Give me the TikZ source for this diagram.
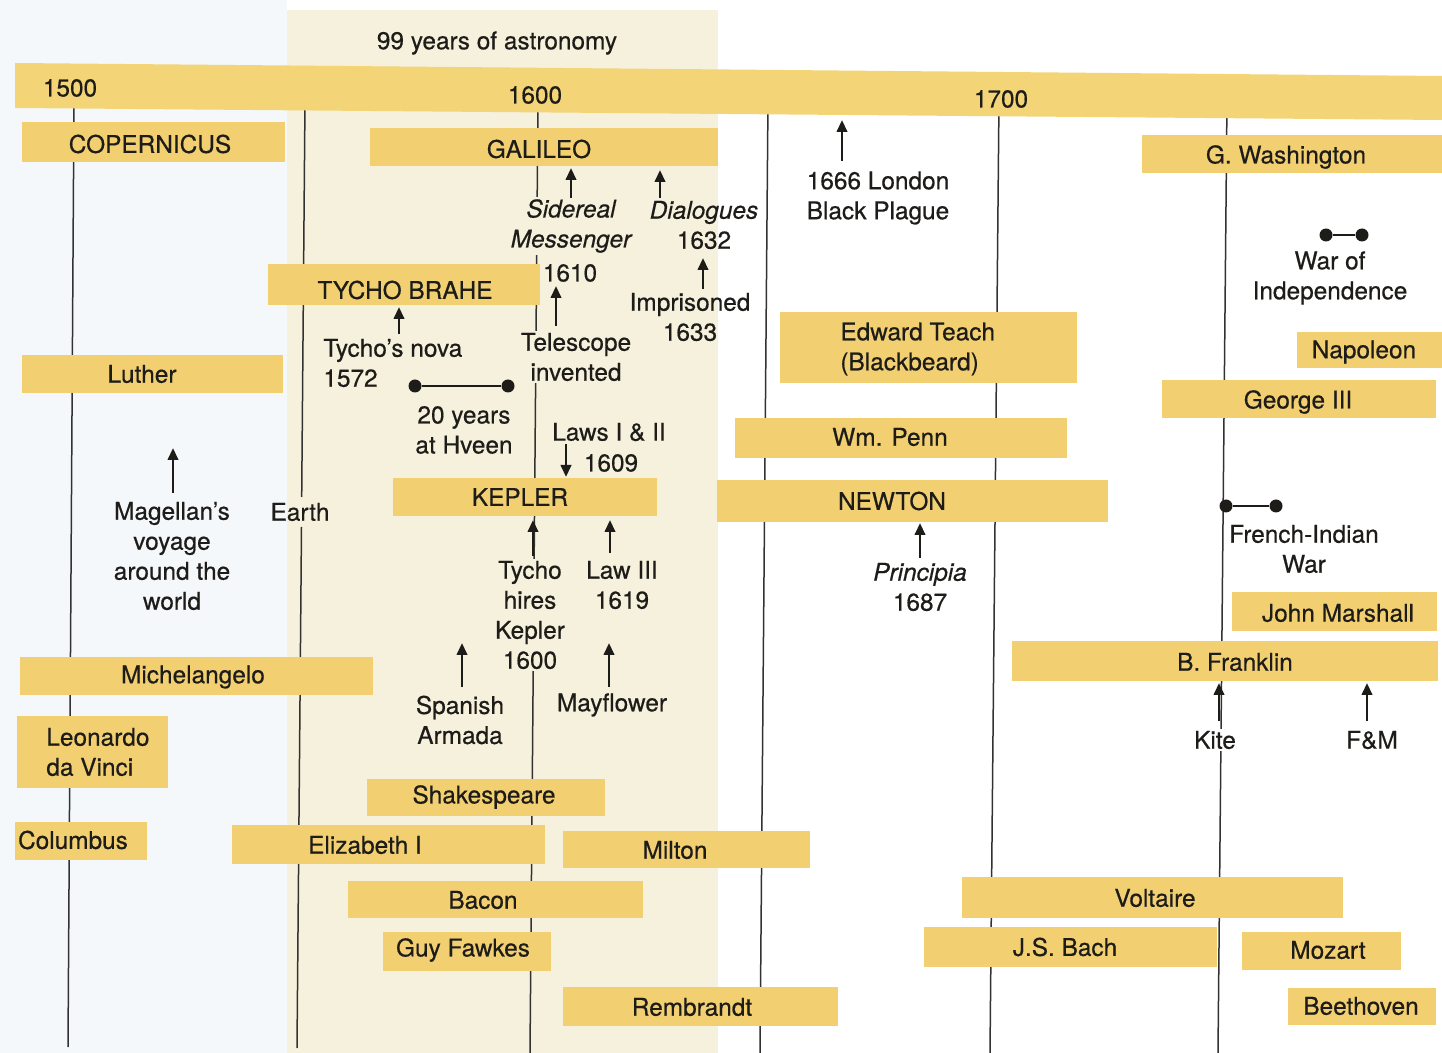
\documentclass[tikz,border=0pt]{standalone}
\usepackage{fontspec}
\setmainfont{TeX Gyre Heros}[FakeBold=0.5]
\usetikzlibrary{arrows.meta}
\definecolor{barc}{RGB}{242,208,114}
\definecolor{topbarc}{RGB}{243,212,118}
\definecolor{creamc}{RGB}{245,241,221}
\definecolor{bluec}{RGB}{244,248,251}
\definecolor{linec}{RGB}{50,50,50}
\definecolor{inkc}{RGB}{30,28,25}
\newcommand\tlbar[8]{\path[fill=barc] (#2,#3) rectangle (#4,#5); \node[bartext] (#1) at (#6,#7) {#8};}
\newcommand\tlarrow[5]{\coordinate (#1t) at (#2,#3); \coordinate (#1h) at (#2,#4); \draw[arr] (#1t) -- (#1h);}
\begin{document}
\begin{tikzpicture}[x=0.5pt,y=-0.5pt,
  bartext/.style={font=\fontsize{12.2}{15}\selectfont, inner sep=0pt, align=center, text=inkc},
  lbl/.style={font=\fontsize{12.2}{15}\selectfont, inner sep=1pt, align=center, text=inkc},
  onc/.style={fill=creamc},
  onw/.style={fill=white},
  arr/.style={-{Triangle[length=6pt,width=5.2pt]}, line width=1.3pt, inkc},
  vline/.style={linec, line width=0.75pt},
  dumb/.style={line width=1.4pt, inkc},
  dot/.style={circle, fill=inkc, inner sep=0pt, minimum size=6.5pt}]

\useasboundingbox (0,0) rectangle (1442,1053);
\fill[white] (0,0) rectangle (1442,1053);
\fill[bluec] (0,0) rectangle (287,1053);
\fill[creamc] (287,10) rectangle (718,1053);

% vertical lines
\coordinate (l1a) at (74,100); \coordinate (l1b) at (68,1047);
\coordinate (l2a) at (305,100); \coordinate (l2m) at (301.7,497);
\coordinate (l2n) at (301.5,527); \coordinate (l2b) at (297,1048);
\coordinate (l3a) at (538,100); \coordinate (l3b) at (530,1053);
\coordinate (l4a) at (768,100); \coordinate (l4b) at (760,1053);
\coordinate (l5a) at (999,100); \coordinate (l5b) at (990,1053);
\coordinate (l6a) at (1227,100); \coordinate (l6b) at (1218,1053);
\draw[vline] (l1a) -- (l1b);
\draw[vline] (l2a) -- (l2m);
\draw[vline] (l2n) -- (l2b);
\draw[vline] (l3a) -- (l3b);
\draw[vline] (l4a) -- (l4b);
\draw[vline] (l5a) -- (l5b);
\draw[vline] (l6a) -- (l6b);

% top bar
\fill[topbarc] (15,63) -- (1442,76) -- (1442,120) -- (15,108) -- cycle;
\node[bartext] (y1500) at (70,88) {1500};
\node[bartext] (y1600) at (535,95) {1600};
\node[bartext] (y1700) at (1001,99) {1700};
\node[lbl] (title) at (497,43) {99 years of astronomy};

% bars
\tlbar{copernicus}{22}{122}{285}{162}{150}{144}{COPERNICUS}
\tlbar{galileo}{370}{128}{718}{166}{539}{149}{GALILEO}
\tlbar{tycho}{268}{264}{540}{305}{405}{290}{TYCHO BRAHE}
\tlbar{luther}{22}{355}{283}{393}{142}{374}{Luther}
\tlbar{kepler}{393}{478}{657}{516}{520}{497}{KEPLER}
\tlbar{michelangelo}{20}{657}{373}{695}{193}{677}{Michelangelo}
\path[fill=barc] (17,716) rectangle (168,788);
\node[bartext, anchor=west, align=left] (leonardo) at (46,752) {Leonardo\\da Vinci};
\tlbar{columbus}{15}{822}{147}{860}{73}{840}{Columbus}
\tlbar{shakespeare}{367}{779}{605}{816}{484}{797}{Shakespeare}
\tlbar{elizabeth}{232}{825}{545}{864}{365}{845}{Elizabeth I}
\tlbar{milton}{563}{831}{810}{868}{675}{850}{Milton}
\tlbar{bacon}{348}{881}{643}{918}{483}{900}{Bacon}
\tlbar{fawkes}{383}{932}{551}{971}{463}{950}{Guy Fawkes}
\tlbar{rembrandt}{563}{987}{838}{1026}{692}{1007}{Rembrandt}
\path[fill=barc] (780,312) rectangle (1077,383);
\node[bartext, anchor=west, align=left] (teach) at (840,349) {Edward Teach\\(Blackbeard)};
\tlbar{penn}{735}{418}{1067}{458}{890}{437}{Wm. Penn}
\tlbar{newton}{717}{480}{1108}{522}{892}{501}{NEWTON}
\tlbar{washington}{1142}{135}{1442}{173}{1286}{157}{G. Washington}
\tlbar{napoleon}{1297}{332}{1442}{368}{1364}{352}{Napoleon}
\tlbar{george}{1162}{380}{1436}{418}{1298}{402}{George III}
\tlbar{marshall}{1232}{592}{1437}{631}{1338}{613}{John Marshall}
\tlbar{franklin}{1012}{641}{1438}{681}{1235}{662}{B. Franklin}
\tlbar{voltaire}{962}{877}{1343}{918}{1155}{898}{Voltaire}
\tlbar{bach}{924}{927}{1217}{967}{1065}{947}{J.S. Bach}
\tlbar{mozart}{1242}{932}{1401}{970}{1328}{950}{Mozart}
\tlbar{beethoven}{1288}{988}{1436}{1025}{1361}{1006}{Beethoven}

% labels
\node[lbl, onc] (sidereal) at (571,226) {\itshape Sidereal\\\itshape Messenger};
\node[lbl, onc] (t1610) at (570,273) {1610};
\node[lbl] (dialogues) at (704,225) {\itshape Dialogues\\1632};
\node[lbl] (imprisoned) at (690,317) {Imprisoned\\1633};
\node[lbl, onc] (telescope) at (576,357) {Telescope\\invented};
\node[lbl, onc, anchor=west, align=left] (nova) at (321,363) {Tycho's nova\\1572};
\node[lbl, onc] (hveen) at (464,430) {20 years\\at Hveen};
\node[lbl, onc] (laws) at (609,432) {Laws I \& II};
\node[lbl, onc] (t1609) at (611,463) {1609};
\node[lbl, onc] (hires) at (530,615) {Tycho\\hires\\Kepler\\1600};
\node[lbl, onc] (law3) at (622,585) {Law III\\1619};
\node[lbl, onc] (armada) at (460,720) {Spanish\\Armada};
\node[lbl, onc] (mayflower) at (612,705) {Mayflower};
\node[lbl] (magellan) at (172,556) {Magellan's\\voyage\\around the\\world};
\node[lbl] (earth) at (300,512) {Earth};
\node[lbl] (plague) at (878,198) {1666 London\\Black Plague};
\node[lbl] (principia) at (920,587) {\itshape Principia\\1687};
\node[lbl] (independence) at (1330,278) {War of\\Independence};
\node[lbl] (frenchindian) at (1304,549) {French-Indian\\War};
\node[lbl, onw] (kite) at (1215,740) {Kite};
\node[lbl] (fm) at (1372,740) {F\&M};

% arrows
\tlarrow{a1}{571}{198}{168}{}
\tlarrow{a2}{660}{198}{170}{}
\tlarrow{a3}{703}{289}{258}{}
\tlarrow{a4}{556}{326}{286}{}
\tlarrow{a5}{399}{334}{307}{}
\tlarrow{a6}{566}{444}{477}{}
\tlarrow{a7}{533}{556}{520}{}
\tlarrow{a8}{610}{553}{520}{}
\tlarrow{a9}{173}{493}{448}{}
\tlarrow{a10}{462}{687}{643}{}
\tlarrow{a11}{609}{687}{643}{}
\tlarrow{a12}{842}{161}{120}{}
\tlarrow{a13}{920}{558}{523}{}
\tlarrow{a14}{1219}{721}{683}{}
\tlarrow{a15}{1367}{721}{683}{}

% dumbbells
\node[dot] (d1a) at (415,386) {};
\node[dot] (d1b) at (508,386) {};
\draw[dumb] (d1a) -- (d1b);
\node[dot] (d2a) at (1326,235) {};
\node[dot] (d2b) at (1362,235) {};
\draw[dumb] (d2a) -- (d2b);
\node[dot] (d3a) at (1226,506) {};
\node[dot] (d3b) at (1276,506) {};
\draw[dumb] (d3a) -- (d3b);
\end{tikzpicture}
\end{document}
